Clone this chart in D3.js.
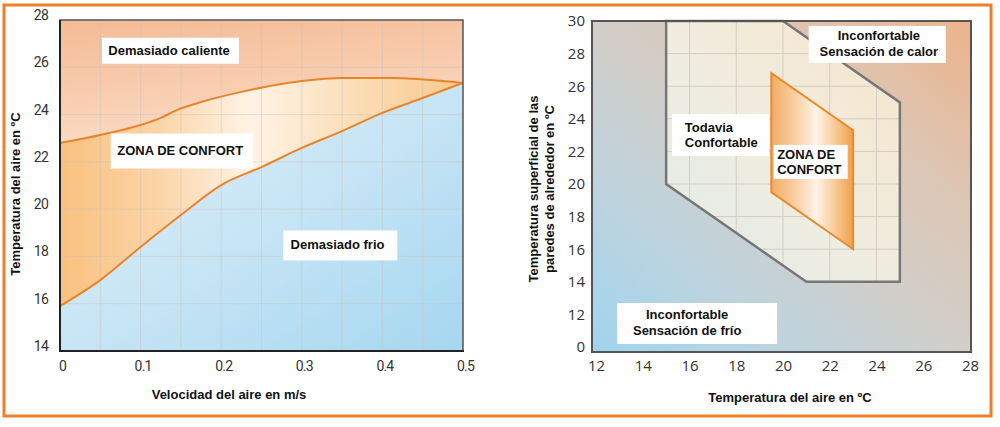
<!DOCTYPE html>
<html><head><meta charset="utf-8">
<script src="https://cdn.jsdelivr.net/npm/d3@7"></script>
<style>
html,body{margin:0;padding:0;background:#fff;}
svg{display:block;}
.tick text{fill:#333;}
</style></head>
<body><svg id="c" width="1000" height="427"></svg>
<script>
// ---------- DATA ----------
// Left chart: air velocity (m/s) vs air temperature (°C)
const upperX = [0, 0.05, 0.1, 0.125, 0.145, 0.175, 0.225, 0.3, 0.35, 0.41, 0.5];
const upperT = [22.8, 23.14, 23.56, 23.86, 24.19, 24.53, 24.96, 25.42, 25.55, 25.55, 25.34];
const lowerX = [0, 0.05, 0.1, 0.15, 0.2, 0.25, 0.3, 0.35, 0.4, 0.45, 0.5];
const lowerT = [15.9, 17.0, 18.4, 19.75, 21.02, 21.78, 22.59, 23.3, 24.07, 24.7, 25.34];
const leftXTicks = [0, 0.1, 0.2, 0.3, 0.4, 0.5];
const leftYTicks = [14, 16, 18, 20, 22, 24, 26, 28];
const leftXGrid = [0.05, 0.1, 0.15, 0.2, 0.25, 0.3, 0.35, 0.4, 0.45];
const leftYGrid = [16, 18, 20, 22, 24, 26];

// Right chart: air temperature vs surrounding wall surface temperature
const todaviaX = [15, 15, 21, 25, 25, 20];
const todaviaY = [30, 20, 14, 14, 25, 30];
const confortX = [19.5, 23, 23, 19.5];
const confortY = [26.8, 23.3, 16, 19.5];
const rightXTicks = [12, 14, 16, 18, 20, 22, 24, 26, 28];
const rightYTicks = [10, 12, 14, 16, 18, 20, 22, 24, 26, 28, 30];   // 10 = broken-axis slot labelled "0"
const rightYTickLabels = ["0", "12", "14", "16", "18", "20", "22", "24", "26", "28", "30"];
const rightXGrid = [16, 18, 20, 22, 24];
const rightYGrid = [16, 18, 20, 22, 24, 26, 28];

// ---------- DRAW ----------
const svg = d3.select("#c");
const defs = svg.append("defs");
svg.append("rect").attr("width",1000).attr("height",427).attr("fill","#fff");

function lin(id, x1,y1,x2,y2, stops){
  const g = defs.append("linearGradient").attr("id",id)
    .attr("x1",x1).attr("y1",y1).attr("x2",x2).attr("y2",y2);
  stops.forEach(s=>g.append("stop").attr("offset",s[0]).attr("stop-color",s[1]));
}
lin("gTop","0","0","0.3","1",[[0,"#f4bb95"],[0.6,"#f8cdb0"],[1,"#fbdcc6"]]);
lin("gMid","0","0","1","0",[[0,"#f8c17f"],[0.25,"#fbd5a8"],[0.47,"#fff3e6"],[0.75,"#fbdcb4"],[1,"#f8c88c"]]);
lin("gBot","0","0","1","1",[[0,"#e2f0f8"],[0.5,"#c8e5f5"],[1,"#a5d7f0"]]);
lin("gRBg","0","1","1","0",[[0,"#9fd4ef"],[0.25,"#bcd4df"],[0.5,"#d2cec8"],[0.72,"#dcc6b4"],[1,"#edb38b"]]);
lin("gTod","0","1","1","0",[[0,"#e0ebe8"],[0.45,"#efede1"],[1,"#f8e5ca"]]);
lin("gConf","0","0","1","0",[[0,"#f3ac64"],[0.3,"#f8d0a4"],[0.55,"#fef3e6"],[0.8,"#f8c690"],[1,"#f0a048"]]);

const tickFont = "'Open Sans', sans-serif";
const boldFont = "'Liberation Sans', Arial, sans-serif";

// ===== Left chart =====
const L = {x0:60, x1:463, y0:20, y1:351};
const xL = d3.scaleLinear().domain([0,0.5]).range([L.x0, L.x1]);
const yL = d3.scaleLinear().domain([14,28]).range([L.y1, L.y0]);
const gl = svg.append("g");
const upPts = upperX.map((x,i)=>[x, upperT[i]]);
const loPts = lowerX.map((x,i)=>[x, lowerT[i]]);
const curve = d3.curveMonotoneX;

gl.append("rect").attr("x",L.x0).attr("y",L.y0).attr("width",L.x1-L.x0).attr("height",L.y1-L.y0).attr("fill","url(#gMid)");
gl.append("path").datum(upPts).attr("fill","url(#gTop)")
  .attr("d", d3.area().curve(curve).x(d=>xL(d[0])).y0(yL(28)).y1(d=>yL(d[1])));
gl.append("path").datum(loPts).attr("fill","url(#gBot)")
  .attr("d", d3.area().curve(curve).x(d=>xL(d[0])).y0(yL(14)).y1(d=>yL(d[1])));

// grid
gl.selectAll(".vg").data(leftXGrid).enter().append("line")
  .attr("x1",d=>xL(d)).attr("x2",d=>xL(d)).attr("y1",L.y0).attr("y2",L.y1)
  .attr("stroke","#c9c3bd").attr("stroke-opacity",0.45).attr("stroke-width",1);
gl.selectAll(".hg").data(leftYGrid).enter().append("line")
  .attr("x1",L.x0).attr("x2",L.x1).attr("y1",d=>yL(d)).attr("y2",d=>yL(d))
  .attr("stroke","#c9c3bd").attr("stroke-opacity",0.45).attr("stroke-width",1);

// curves
const ln = d3.line().curve(curve).x(d=>xL(d[0])).y(d=>yL(d[1]));
gl.append("path").datum(upPts).attr("d",ln).attr("fill","none").attr("stroke","#e8842c").attr("stroke-width",2);
gl.append("path").datum(loPts).attr("d",ln).attr("fill","none").attr("stroke","#e8842c").attr("stroke-width",2);

// frame
gl.append("rect").attr("x",L.x0).attr("y",L.y0).attr("width",L.x1-L.x0).attr("height",L.y1-L.y0)
  .attr("fill","none").attr("stroke","#555").attr("stroke-width",1.5);
gl.append("line").attr("x1",L.x0).attr("x2",L.x0).attr("y1",L.y0).attr("y2",L.y1+1).attr("stroke","#222").attr("stroke-width",2);
gl.append("line").attr("x1",L.x0).attr("x2",L.x1+1).attr("y1",L.y1).attr("y2",L.y1).attr("stroke","#222").attr("stroke-width",2);

// axes
const axL = gl.append("g").attr("transform",`translate(${L.x0},0)`)
  .call(d3.axisLeft(yL).tickValues(leftYTicks).tickSize(0).tickPadding(12).tickFormat(d3.format("d")));
axL.select(".domain").remove();
axL.selectAll("text").attr("y",-5).style("font-family","Roboto, sans-serif").style("font-size","14px").style("letter-spacing","-0.8px");
const axB = gl.append("g").attr("transform",`translate(0,${L.y1})`)
  .call(d3.axisBottom(xL).tickValues(leftXTicks).tickSize(0).tickPadding(10).tickFormat(d=>d===0?"0":d3.format(".1f")(d)));
axB.select(".domain").remove();
axB.selectAll("text").attr("x",2).style("font-family","Roboto, sans-serif").style("font-size","14px").style("letter-spacing","-0.8px");

// titles
gl.append("text").attr("x",229).attr("y",399).attr("text-anchor","middle")
  .style("font-family",boldFont).style("font-weight","bold").style("font-size","13px").attr("fill","#111")
  .text("Velocidad del aire en m/s");
gl.append("text").attr("transform","translate(20,194) rotate(-90)").attr("text-anchor","middle")
  .style("font-family",boldFont).style("font-weight","bold").style("font-size","13px").attr("fill","#111")
  .text("Temperatura del aire en ºC");

function box(g, x, y, w, h, lines, tx, anchor, ys){
  g.append("rect").attr("x",x).attr("y",y).attr("width",w).attr("height",h).attr("fill","#fff");
  lines.forEach((t,i)=>{
    g.append("text").attr("x",tx).attr("y",ys[i]).attr("text-anchor",anchor)
      .style("font-family",boldFont).style("font-weight","bold").style("font-size","13px").attr("fill","#111")
      .text(t);
  });
}
// labels placed in data units
box(gl, xL(0.052), yL(27.25), 137, 26, ["Demasiado caliente"], xL(0.06), "start", [yL(27.25)+17]);
box(gl, xL(0.063), yL(23.2), 142, 35, ["ZONA DE CONFORT"], xL(0.071), "start", [yL(23.2)+22]);
box(gl, xL(0.277), yL(19.1), 114, 30, ["Demasiado frio"], xL(0.286), "start", [yL(19.1)+19]);

// ===== Right chart =====
const R = {x0:592, x1:971, y0:21, y1:352};
const xR = d3.scaleLinear().domain([12,28]).range([596, 970]);
const yR = d3.scaleLinear().domain([10,30]).range([347, 21]);
const gr = svg.append("g");
gr.append("rect").attr("x",R.x0).attr("y",R.y0).attr("width",R.x1-R.x0).attr("height",R.y1-R.y0).attr("fill","url(#gRBg)");

const todPts = todaviaX.map((x,i)=>[xR(x), yR(todaviaY[i])]);
const confPts = confortX.map((x,i)=>[xR(x), yR(confortY[i])]);
const poly = pts => "M" + pts.map(p=>p.join(",")).join("L") + "Z";

defs.append("clipPath").attr("id","clipTod").append("path").attr("d", poly(todPts));
gr.append("path").attr("d", poly(todPts)).attr("fill","url(#gTod)");
const gg = gr.append("g").attr("clip-path","url(#clipTod)");
gg.selectAll(".vg").data(rightXGrid).enter().append("line")
  .attr("x1",d=>xR(d)).attr("x2",d=>xR(d)).attr("y1",R.y0).attr("y2",R.y1)
  .attr("stroke","#d3cdc2").attr("stroke-width",1);
gg.selectAll(".hg").data(rightYGrid).enter().append("line")
  .attr("x1",R.x0).attr("x2",R.x1).attr("y1",d=>yR(d)).attr("y2",d=>yR(d))
  .attr("stroke","#d3cdc2").attr("stroke-width",1);
gr.append("path").attr("d", poly(todPts)).attr("fill","none").attr("stroke","#777").attr("stroke-width",2.5).attr("stroke-linejoin","miter");

gr.append("path").attr("d", poly(confPts)).attr("fill","url(#gConf)").attr("stroke","#ea8a2e").attr("stroke-width",2);

gr.append("rect").attr("x",R.x0).attr("y",R.y0).attr("width",R.x1-R.x0).attr("height",R.y1-R.y0)
  .attr("fill","none").attr("stroke","#555").attr("stroke-width",2);

const axRL = gr.append("g").attr("transform",`translate(${R.x0},0)`)
  .call(d3.axisLeft(yR).tickValues(rightYTicks).tickSize(0).tickPadding(7).tickFormat((d,i)=>rightYTickLabels[i]));
axRL.select(".domain").remove();
axRL.selectAll("text").style("font-family",tickFont).style("font-size","15px");
const axRB = gr.append("g").attr("transform",`translate(0,${R.y1})`)
  .call(d3.axisBottom(xR).tickValues(rightXTicks).tickSize(0).tickPadding(8).tickFormat(d3.format("d")));
axRB.select(".domain").remove();
axRB.selectAll("text").style("font-family",tickFont).style("font-size","15px");

gr.append("text").attr("x",790).attr("y",402).attr("text-anchor","middle")
  .style("font-family",boldFont).style("font-weight","bold").style("font-size","13px").attr("fill","#111")
  .text("Temperatura del aire en ºC");
const yt = gr.append("text").attr("transform","translate(538,189) rotate(-90)").attr("text-anchor","middle")
  .style("font-family",boldFont).style("font-weight","bold").style("font-size","13px").attr("fill","#111");
yt.append("tspan").attr("x",0).attr("dy","0").text("Temperatura superficial de las");
yt.append("tspan").attr("x",0).attr("dy","16").text("paredes de alrededor en ºC");

box(gr, xR(15.25), yR(24.3), 97, 42, ["Todavia","Confortable"], xR(15.8), "start", [yR(24.3)+18, yR(24.3)+33]);
box(gr, xR(19.6), yR(22.4), 74, 34, ["ZONA DE","CONFORT"], xR(19.75), "start", [yR(22.4)+14, yR(22.4)+29]);
box(gr, xR(21.1), yR(29.7), 137, 37, ["Inconfortable","Sensación de calor"], xR(24.1), "middle", [yR(29.7)+14, yR(29.7)+30]);
box(gr, xR(12.9), yR(12.7), 160, 41, ["Inconfortable","Sensación de frío"], xR(15.9), "middle", [yR(12.7)+16, yR(12.7)+32]);

// outer orange frame
svg.append("rect").attr("x",4).attr("y",5).attr("width",987).attr("height",411)
  .attr("fill","none").attr("stroke","#f07f2a").attr("stroke-width",3);
</script></body></html>
